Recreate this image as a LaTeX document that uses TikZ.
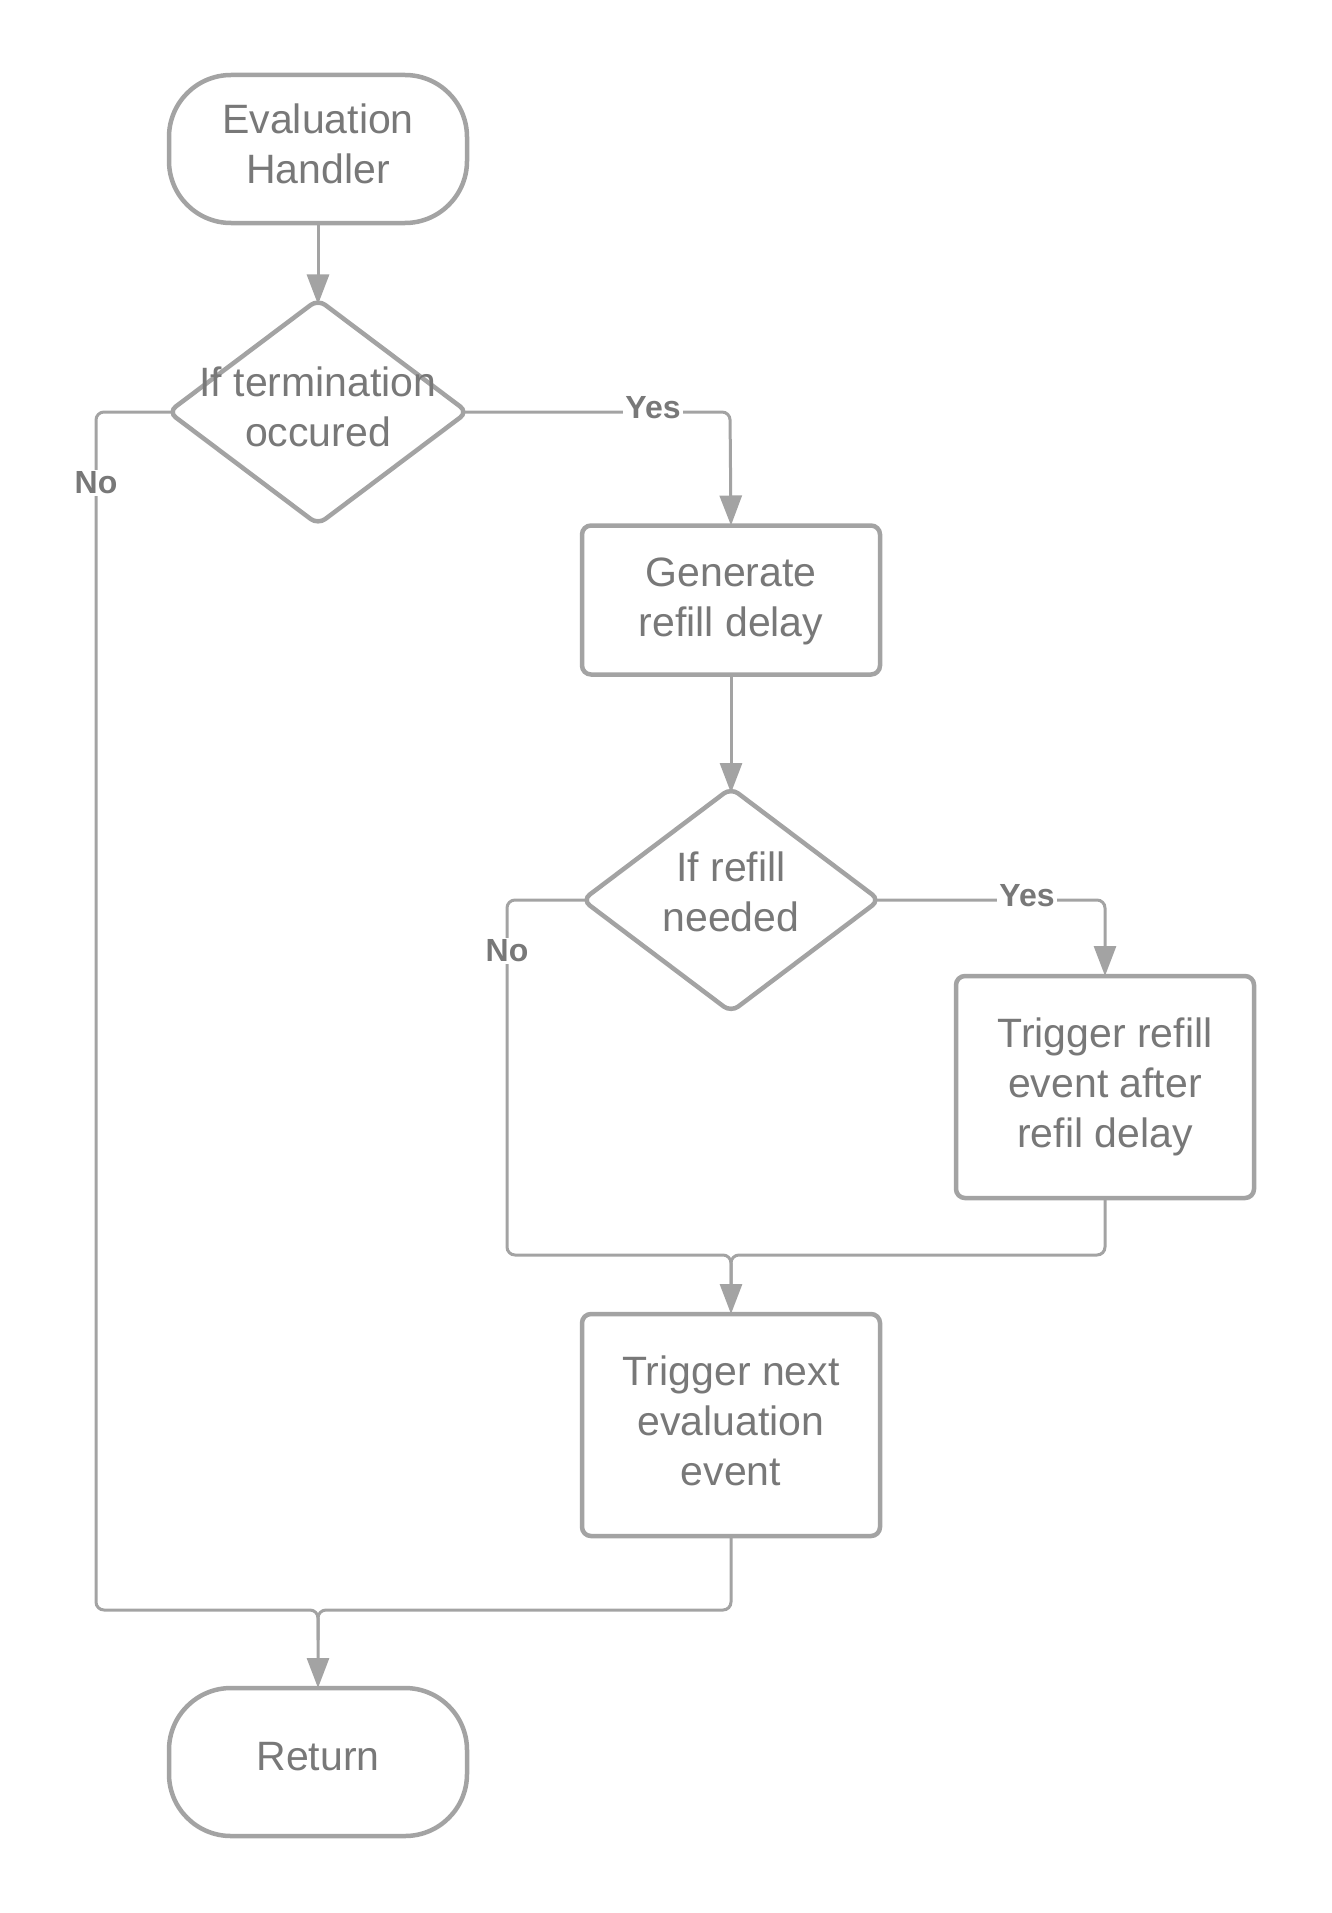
\documentclass[tikz,border=0pt]{standalone}
\usepackage{fontspec}
\setmainfont{Liberation Sans}
\usetikzlibrary{shapes.geometric,arrows.meta}
\definecolor{linegray}{HTML}{A3A3A3}
\definecolor{textgray}{HTML}{787878}
\tikzset{
  conn/.style={draw=linegray, line width=3pt, rounded corners=8pt},
  arr/.style={conn, -{Triangle[length=30pt,width=22pt]}},
  txt/.style={text=textgray, align=center, font=\fontsize{41}{50}\selectfont},
  box/.style={draw=linegray, line width=4.5pt, rounded corners=9pt, fill=white,
              minimum width=298pt, inner sep=0pt, outer sep=0pt},
  term/.style={box, rounded corners=62pt, minimum height=148pt},
  dia/.style={diamond, draw=linegray, line width=4.5pt, rounded corners=9pt,
              fill=white, inner sep=0pt, outer sep=0pt},
  fromdia/.style={shorten <=-5pt},
  todia/.style={shorten >=-5pt},
  lbl/.style={text=textgray, font=\bfseries\fontsize{32}{36}\selectfont,
              fill=white, inner sep=2pt}
}
\begin{document}
\begin{tikzpicture}[x=1pt,y=-1pt]
  \useasboundingbox (0,0) rectangle (1331,1913);

  % shapes
  \node[term] (start) at (318,149) {};
  \node[dia, minimum width=299pt, minimum height=225pt] (term) at (318,412) {};
  \node[box, minimum height=149pt] (gen) at (731,600) {};
  \node[dia, minimum width=297pt, minimum height=224pt] (need) at (731,900) {};
  \node[box, minimum height=222pt] (refill) at (1105,1087) {};
  \node[box, minimum height=222pt] (next) at (731,1425) {};
  \node[term] (ret) at (318,1762) {};

  % texts
  \node[txt] (starttxt) at (318,144) {Evaluation\\Handler};
  \node[txt] (termtxt) at (318,407) {If termination\\occured};
  \node[txt] (gentxt) at (731,601) {Generate\\refill delay};
  \node[txt] (needtxt) at (731,892) {If refill\\needed};
  \node[txt] (refilltxt) at (1105,1087) {Trigger refill\\event after\\refil delay};
  \node[txt] (nexttxt) at (731,1421) {Trigger next\\evaluation\\event};
  \node[txt] (rettxt) at (318,1757) {Return};

  % connectors
  \draw[arr, todia] (start) -- (term);
  \draw[arr, fromdia] (term.east) -- (730,412) -- (gen.north);
  \draw[arr, todia] (gen) -- (need);
  \draw[arr, fromdia] (need.east) -- (1105,900) -- (refill.north);
  \draw[arr, fromdia] (need.west) -- (507,900) -- (507,1255) -- (731,1255) -- (next.north);
  \draw[conn] (refill.south) -- (1105,1255) -- (731,1255) -- (731,1290);
  \draw[arr, fromdia] (term.west) -- (96,412) -- (96,1610) -- (318,1610) -- (ret.north);
  \draw[conn] (next.south) -- (731,1610) -- (318,1610) -- (318,1640);

  % branch labels
  \node[lbl] (yes1) at (653,408) {Yes};
  \node[lbl] (no1) at (96,483) {No};
  \node[lbl] (yes2) at (1027,896) {Yes};
  \node[lbl] (no2) at (507,951) {No};
\end{tikzpicture}
\end{document}
